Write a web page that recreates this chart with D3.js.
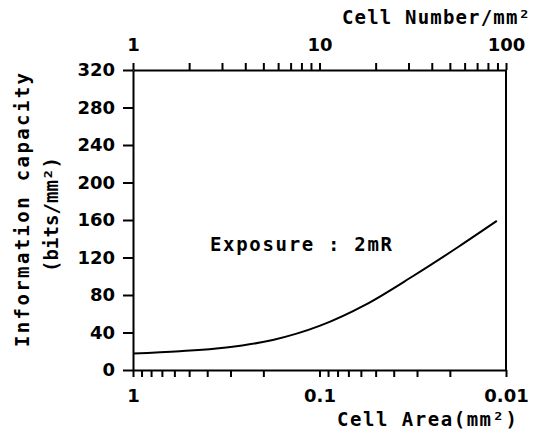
<!DOCTYPE html>
<html>
<head>
<meta charset="utf-8">
<script src="https://cdn.jsdelivr.net/npm/d3@7"></script>
<style>
  body { margin: 0; background: #fff; }
  text { fill: #000; }
</style>
</head>
<body>
<div id="chart"></div>
<script>

// data (cell area in mm², capacity in bits/mm²)
const cellArea = [1, 0.562, 0.316, 0.178, 0.1, 0.0562, 0.0316, 0.0178, 0.0112];
const capacity = [17.5, 20, 24, 32, 47, 70, 100, 132, 159];

const yTicks = [0, 40, 80, 120, 160, 200, 240, 280, 320];
const areaMajor = [1, 0.1, 0.01];
const areaLabels = ["1", "0.1", "0.01"];
const areaMinor = [0.9, 0.8, 0.7, 0.6, 0.5, 0.4, 0.3, 0.2, 0.09, 0.08, 0.07, 0.06, 0.05, 0.04, 0.03, 0.02];
const numberMajor = [1, 10, 100];
const numberLabels = ["1", "10", "100"];
const numberMinor = [2, 3, 4, 5, 6, 7, 8, 9, 20, 30, 40, 50, 60, 70, 80, 90];

const width = 545, height = 435;
const plot = {left: 133, right: 506, top: 70, bottom: 370};

const svg = d3.select('#chart')
  .append('svg')
  .attr('width', width)
  .attr('height', height);

// scales
const x = d3.scaleLog().domain([1, 0.01]).range([plot.left, plot.right]);
const xTop = d3.scaleLog().domain([1, 100]).range([plot.left, plot.right]);
const y = d3.scaleLinear().domain([0, 320]).range([plot.bottom, plot.top]);

const numFont = g => g.selectAll('text')
  .style('font-family', 'DejaVu Sans')
  .style('font-weight', 'bold')
  .style('font-size', '18px');

const heavy = g => {
  g.selectAll('path, line').attr('stroke', '#000').attr('stroke-width', 2);
};

// bottom axis: cell area
svg.append('g')
  .attr('transform', `translate(0,${plot.bottom})`)
  .call(d3.axisBottom(x)
    .tickValues(areaMajor.concat(areaMinor))
    .tickSize(7)
    .tickSizeOuter(0)
    .tickPadding(12)
    .tickFormat(d => {
      let i = areaMajor.indexOf(d);
      return i >= 0 ? areaLabels[i] : "";
    }))
  .call(heavy)
  .call(numFont);

// top axis: cell number
svg.append('g')
  .attr('transform', `translate(0,${plot.top})`)
  .call(d3.axisTop(xTop)
    .tickValues(numberMajor.concat(numberMinor))
    .tickSize(7)
    .tickSizeOuter(0)
    .tickPadding(12)
    .tickFormat(d => {
      let i = numberMajor.indexOf(d);
      return i >= 0 ? numberLabels[i] : "";
    }))
  .call(heavy)
  .call(numFont);

// left axis
svg.append('g')
  .attr('transform', `translate(${plot.left},0)`)
  .call(d3.axisLeft(y)
    .tickValues(yTicks)
    .tickSize(10)
    .tickSizeOuter(0)
    .tickPadding(8))
  .call(heavy)
  .call(numFont);

// right border
svg.append('line')
  .attr('x1', plot.right).attr('x2', plot.right)
  .attr('y1', y(320)).attr('y2', y(0))
  .attr('stroke', '#000')
  .attr('stroke-width', 2);

// the curve
const line = d3.line()
  .x((d, i) => x(cellArea[i]))
  .y(d => y(d))
  .curve(d3.curveMonotoneX);

svg.append('path')
  .datum(capacity)
  .attr('d', line)
  .attr('fill', 'none')
  .attr('stroke', '#000')
  .attr('stroke-width', 2);

// labels
function label(txt, px, py, len, anchor, rotate) {
  let t = svg.append('text')
    .attr('x', px)
    .attr('y', py)
    .attr('text-anchor', anchor)
    .attr('textLength', len)
    .attr('lengthAdjust', 'spacing')
    .style('font-family', 'DejaVu Sans Mono')
    .style('font-weight', 'bold')
    .style('font-size', '19px')
    .text(txt);
  if (rotate) t.attr('transform', `rotate(-90,${px},${py})`);
  return t;
}

label('Cell Number/mm²', 342, 24, 188, 'start');
label('Cell Area(mm²)', 337, 426, 180, 'start');
label('Exposure : 2mR', 210, 251, 182, 'start');
label('Information capacity', 29, 347, 274, 'start', true);
label('(bits/mm²)', 58, 272, 115, 'start', true);

</script>
</body>
</html>
